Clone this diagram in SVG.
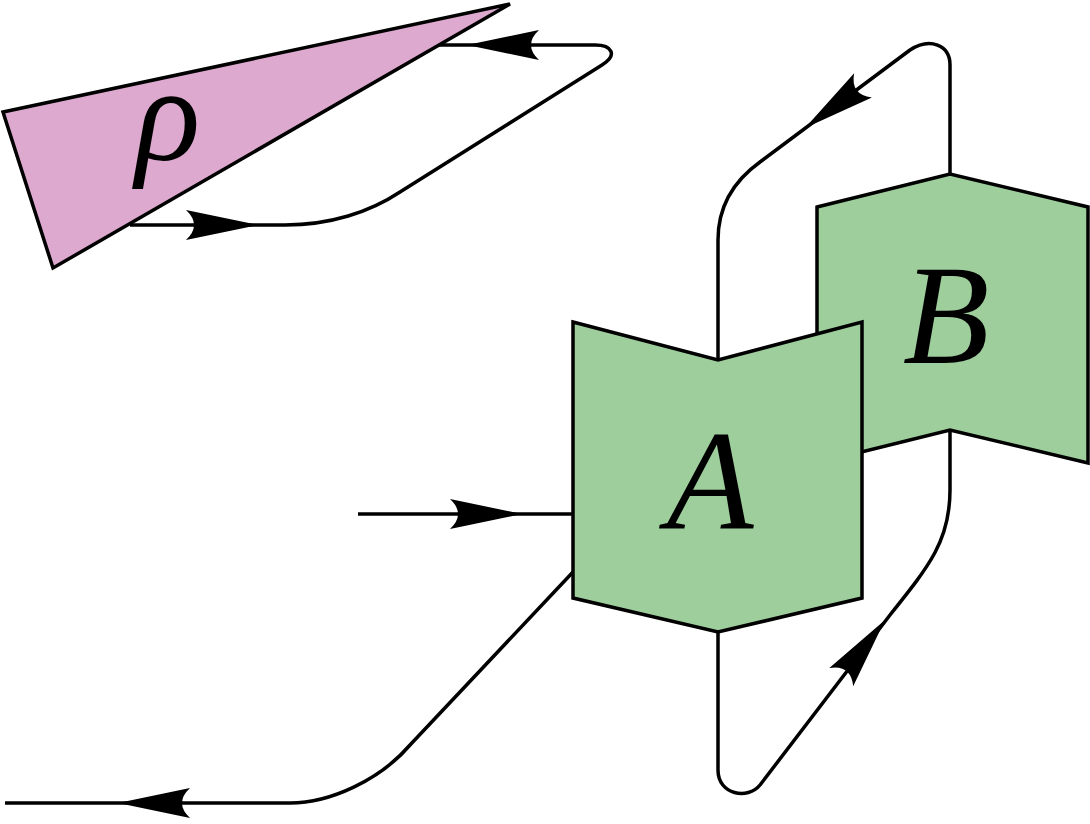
<svg xmlns="http://www.w3.org/2000/svg" width="1090" height="824" viewBox="0 0 1090 824">
<style>
.w{fill:none;stroke:#000;stroke-width:3.5;stroke-linejoin:round}
.n{stroke:#000;stroke-width:3.5;stroke-linejoin:miter}
.g{fill:#9fce9d}
.t{font-family:"Liberation Serif",serif;font-style:italic;text-anchor:middle}
</style>
<defs><path id="ah" d="M0,0 L-72,-15 Q-56,0 -72,15 Z" fill="#000"/></defs>
<g id="connectors">
<path class="w" d="M130,225 L285,225 C330,225 370,212 400,192 L602,65 C618,55 612,45 595,45 L435,45"/>
<path class="w" d="M718,360 L718,240 C718,205 735,180 760,162 L910,50 C930,37 950,45 950,65 L950,174"/>
<path class="w" d="M718,632 L718,770 C718,795 748,800 760,785 L890,615 C930,565 950,540 950,490 L950,430"/>
<path class="w" d="M358,514 L573,514"/>
<path class="w" d="M573,572 L410,745 C380,780 330,803 290,803 L5,803"/>
<use href="#ah" transform="translate(258,225)"/>
<use href="#ah" transform="translate(467,45) rotate(180)"/>
<use href="#ah" transform="translate(805,128) rotate(143.7)"/>
<use href="#ah" transform="translate(885,620) rotate(-52.6)"/>
<use href="#ah" transform="translate(522,514)"/>
<use href="#ah" transform="translate(118,803) rotate(180)"/>
</g>
<g id="rho">
<polygon class="n" fill="#dda9cf" points="3,112 510,4 53,268"/>
<text class="t" x="168" y="160" font-size="135">ρ</text>
</g>
<g id="B">
<polygon class="n g" points="817,207 950,174 1088,207 1088,463 950,430 817,463"/>
<text class="t" x="946" y="363" font-size="142">B</text>
</g>
<g id="A">
<polygon class="n g" points="573,322 718,360 862,322 862,598 718,632 573,598"/>
<text class="t" x="710" y="528" font-size="142">A</text>
</g>
</svg>
